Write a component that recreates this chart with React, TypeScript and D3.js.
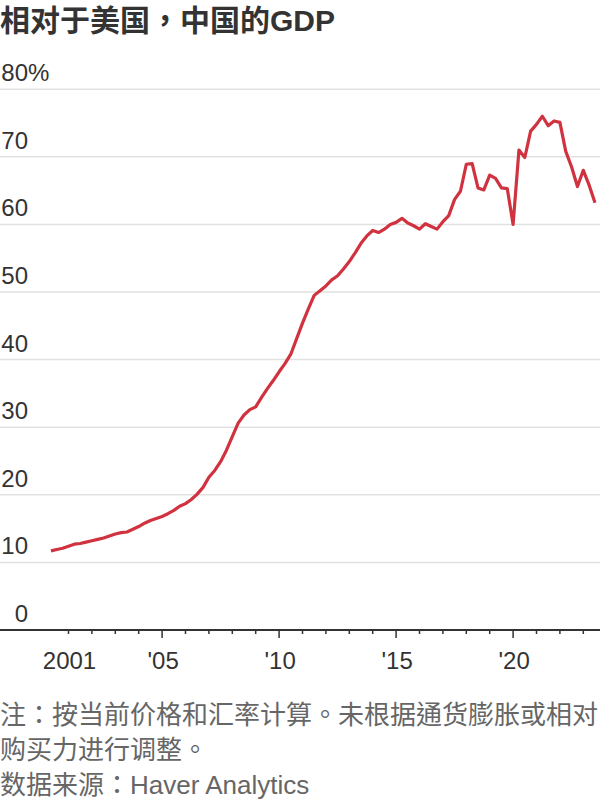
import React from "react";
import * as d3 from "d3";

const title = "相对于美国，中国的GDP";
const noteLines = ["注：按当前价格和汇率计算。未根据通货膨胀或相对", "购买力进行调整。"];
const sourceLine = "数据来源：Haver Analytics";

// Quarterly periods (year, quarter)
const quarters: string[] = [
  "2000Q2", "2000Q3", "2000Q4",
  "2001Q1", "2001Q2", "2001Q3", "2001Q4",
  "2002Q1", "2002Q2", "2002Q3", "2002Q4",
  "2003Q1", "2003Q2", "2003Q3", "2003Q4",
  "2004Q1", "2004Q2", "2004Q3", "2004Q4",
  "2005Q1", "2005Q2", "2005Q3", "2005Q4",
  "2006Q1", "2006Q2", "2006Q3", "2006Q4",
  "2007Q1", "2007Q2", "2007Q3", "2007Q4",
  "2008Q1", "2008Q2", "2008Q3", "2008Q4",
  "2009Q1", "2009Q2", "2009Q3", "2009Q4",
  "2010Q1", "2010Q2", "2010Q3", "2010Q4",
  "2011Q1", "2011Q2", "2011Q3", "2011Q4",
  "2012Q1", "2012Q2", "2012Q3", "2012Q4",
  "2013Q1", "2013Q2", "2013Q3", "2013Q4",
  "2014Q1", "2014Q2", "2014Q3", "2014Q4",
  "2015Q1", "2015Q2", "2015Q3", "2015Q4",
  "2016Q1", "2016Q2", "2016Q3", "2016Q4",
  "2017Q1", "2017Q2", "2017Q3", "2017Q4",
  "2018Q1", "2018Q2", "2018Q3", "2018Q4",
  "2019Q1", "2019Q2", "2019Q3", "2019Q4",
  "2020Q1", "2020Q2", "2020Q3", "2020Q4",
  "2021Q1", "2021Q2", "2021Q3", "2021Q4",
  "2022Q1", "2022Q2", "2022Q3", "2022Q4",
  "2023Q1", "2023Q2", "2023Q3",
];

// China GDP as % of US GDP
const ratio: number[] = [
  11.7, 11.9, 12.1,
  12.4, 12.7, 12.8, 13.0,
  13.2, 13.4, 13.6, 13.9,
  14.2, 14.4, 14.5, 14.9,
  15.3, 15.8, 16.2, 16.5,
  16.8, 17.2, 17.7, 18.3,
  18.7, 19.3, 20.1, 21.1,
  22.6, 23.6, 24.9, 26.6,
  28.6, 30.6, 31.8, 32.6,
  33.0, 34.4, 35.7, 36.9,
  38.2, 39.4, 40.8, 43.1,
  45.4, 47.5, 49.5, 50.2,
  50.9, 51.8, 52.4, 53.4,
  54.5, 55.8, 57.2, 58.3,
  59.1, 58.8, 59.3, 60.0,
  60.3, 60.9, 60.2, 59.8,
  59.3, 60.1, 59.7, 59.3,
  60.4, 61.3, 63.7, 64.9,
  68.9, 69.0, 65.4, 65.1,
  67.3, 66.8, 65.4, 65.3,
  60.0, 71.0, 69.9, 73.8,
  74.8, 76.0, 74.6, 75.3,
  75.1, 70.8, 68.5, 65.6,
  68.0, 65.8, 63.2,
];

const yTicks = [0, 10, 20, 30, 40, 50, 60, 70, 80];
const yearTicks = [2001, 2002, 2003, 2004, 2005, 2006, 2007, 2008, 2009, 2010, 2011, 2012, 2013, 2014, 2015, 2016, 2017, 2018, 2019, 2020, 2021, 2022, 2023];
const majorYears = [2005, 2010, 2015, 2020];
const xLabelYears = [2001, 2005, 2010, 2015, 2020];
const xLabels = ["2001", "'05", "'10", "'15", "'20"];

const FONT = "'Liberation Sans', Arial, 'Noto Sans CJK TC', sans-serif";

function toYear(q: string): number {
  const yr = +q.slice(0, 4);
  const qq = +q.slice(5);
  return yr + (qq - 1) / 4;
}

export default function App() {
  const x = d3.scaleLinear().domain([2000, 2024]).range([45.1, 606.7]);
  const y = d3.scaleLinear().domain([0, 80]).range([630, 89.2]);
  const data = quarters.map((q, i) => ({ t: toYear(q), v: ratio[i] }));
  const line = d3
    .line<{ t: number; v: number }>()
    .x((d) => x(d.t))
    .y((d) => y(d.v));

  return (
    <svg
      width={600}
      height={800}
      style={{ position: "fixed", left: 0, top: 0, background: "#fff" }}
      fontFamily={FONT}
    >
      <rect x={0} y={0} width={600} height={800} fill="#fff" />
      <text x={0} y={31} fontSize={30} fontWeight="bold" fill="#333">
        {title}
      </text>

      {yTicks.filter((v) => v > 0).map((v) => (
        <line key={"g" + v} x1={0} x2={600} y1={y(v)} y2={y(v)} stroke="#e1e1e1" strokeWidth={1.5} />
      ))}

      {yTicks.map((v) => (
        <g key={"l" + v}>
          <text x={28} y={y(v) - 8} fontSize={24} fill="#333" textAnchor="end">
            {v}
          </text>
          {v === 80 && (
            <text x={28} y={y(v) - 8} fontSize={24} fill="#333">
              %
            </text>
          )}
        </g>
      ))}

      <path d={line(data) || ""} fill="none" stroke="#d1323f" strokeWidth={3.2} strokeLinejoin="round" />

      <line x1={0} x2={600} y1={y(0)} y2={y(0)} stroke="#333" strokeWidth={2} />
      {yearTicks.map((yr) => (
        <line
          key={"t" + yr}
          x1={x(yr)}
          x2={x(yr)}
          y1={y(0)}
          y2={y(0) + (majorYears.includes(yr) ? 8 : 4)}
          stroke="#333"
          strokeWidth={1.5}
        />
      ))}
      {xLabelYears.map((yr, i) => (
        <text key={"x" + yr} x={x(yr) + 1} y={669} fontSize={24} fill="#333" textAnchor="middle">
          {xLabels[i]}
        </text>
      ))}

      <text fontSize={26} fill="#666">
        {noteLines.map((ln, i) => (
          <tspan key={i} x={0} y={724 + i * 35}>
            {ln}
          </tspan>
        ))}
        <tspan x={0} y={794}>
          {sourceLine}
        </tspan>
      </text>
    </svg>
  );
}
